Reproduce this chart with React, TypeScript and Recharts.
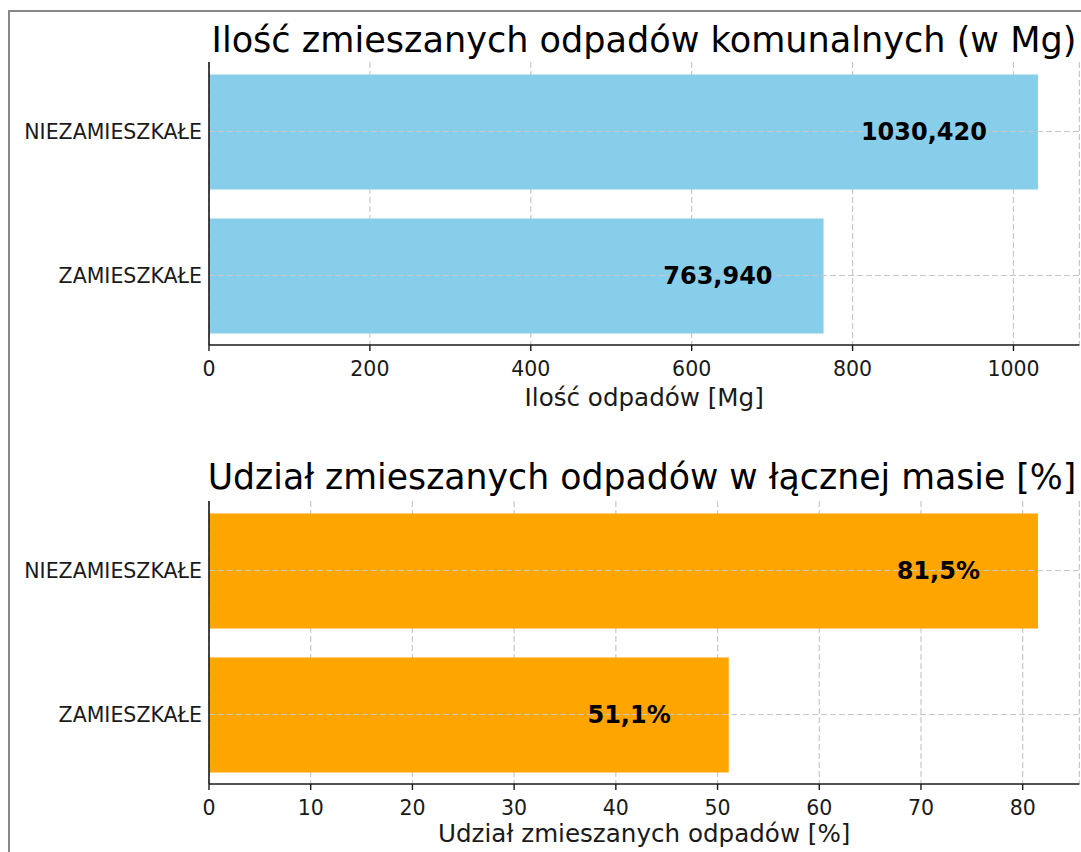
import {BarChart, Bar, XAxis, YAxis, CartesianGrid, LabelList, ReferenceLine} from "recharts";

const categories = ["NIEZAMIESZKAŁE", "ZAMIESZKAŁE"];
const massValues = [1030.42, 763.94];
const shareValues = [81.5, 51.1];
const massTicks = [0, 200, 400, 600, 800, 1000];
const shareTicks = [0, 10, 20, 30, 40, 50, 60, 70, 80];

const FONT = "'DejaVu Sans', sans-serif";
const INK = "#1a1a1a";
const GRID = "#c8c8c8";

interface PanelProps {
    values: number[];
    color: string;
    ticks: number[];
    top: number;
    marginTop: number;
    axisLabel: string;
    labelHeight: number;
    gap: number;
    format: (v: number) => string;
}

const Panel = ({values, color, ticks, top, marginTop, axisLabel, labelHeight, gap, format}: PanelProps) => {
    const data = categories.map((name, i) => ({name, value: values[i]}));
    const maxX = Math.max(...values) * 1.05;
    const height = marginTop + 283 + labelHeight + 10;

    const renderValue = (props: any) => {
        const {x, y, width, height: h, value} = props;
        return (
            <text x={x + width - gap} y={y + h / 2 + 8} textAnchor="end" fontWeight="bold"
                  fontSize={24} fill="#000" fontFamily={FONT}>
                {format(value)}
            </text>
        );
    };

    return (
        <div style={{position: "absolute", left: 0, top}}>
            <BarChart width={1081} height={height} data={data} layout="vertical"
                      margin={{top: marginTop, right: 1.6, left: 0, bottom: 10}}>
                <XAxis type="number" domain={[0, maxX]} ticks={ticks} allowDataOverflow
                       tickSize={6} tickMargin={10} height={labelHeight}
                       axisLine={{stroke: INK, strokeWidth: 1.6}} tickLine={{stroke: INK, strokeWidth: 1.4}}
                       tick={{fontSize: 20.5, fill: INK, fontFamily: FONT}}
                       label={{value: axisLabel, position: "insideBottom", offset: 0, fontSize: 24.6, fill: INK, fontFamily: FONT}}/>
                <YAxis type="category" dataKey="name" width={209} tickSize={0} tickMargin={7}
                       padding={{top: -2.5, bottom: -2.5}}
                       axisLine={{stroke: INK, strokeWidth: 1.6}} tickLine={false}
                       tick={{fontSize: 20.5, fill: INK, fontFamily: FONT}}/>
                <Bar dataKey="value" fill={color} barSize={115} isAnimationActive={false}>
                    <LabelList dataKey="value" content={renderValue}/>
                </Bar>
                <CartesianGrid strokeDasharray="6 3" stroke={GRID} strokeWidth={1.2} horizontal={false}/>
                {categories.map((c) => (
                    <ReferenceLine key={c} y={c} stroke={GRID} strokeWidth={1.2} strokeDasharray="6 3"/>
                ))}
            </BarChart>
        </div>
    );
};

const App = () => {
    return (
        <div style={{position: "fixed", left: 0, top: 0, width: 1081, height: 852, overflow: "hidden",
            background: "#fff", fontFamily: FONT}}>
            <Panel values={massValues} color="#87CEEB" ticks={massTicks} top={0} marginTop={62}
                   axisLabel="Ilość odpadów [Mg]" labelHeight={61} gap={51}
                   format={(v) => v.toFixed(3).replace(".", ",")}/>
            <Panel values={shareValues} color="#FFA500" ticks={shareTicks} top={430} marginTop={71}
                   axisLabel="Udział zmieszanych odpadów [%]" labelHeight={58} gap={58}
                   format={(v) => v.toFixed(1).replace(".", ",") + "%"}/>
            <svg width={1081} height={852} style={{position: "absolute", left: 0, top: 0, pointerEvents: "none"}}>
                <path d="M9 852 V11 H1081" fill="none" stroke="#888" strokeWidth={2}/>
                <text x={644} y={52} textAnchor="middle" fontSize={35.1} fill="#000" fontFamily={FONT}>
                    Ilość zmieszanych odpadów komunalnych (w Mg)
                </text>
                <text x={642} y={489} textAnchor="middle" fontSize={34.7} fill="#000" fontFamily={FONT}>
                    Udział zmieszanych odpadów w łącznej masie [%]
                </text>
            </svg>
        </div>
    );
};

export default App;
